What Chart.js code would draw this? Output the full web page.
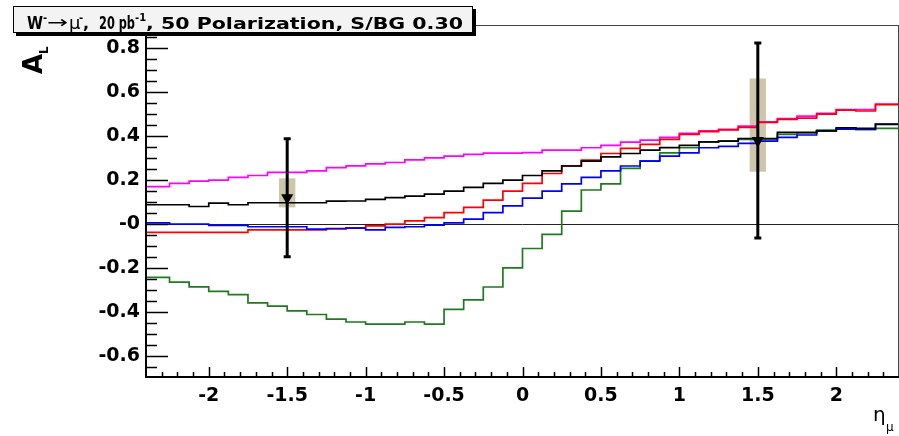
<!DOCTYPE html>
<html>
<head>
<meta charset="utf-8">
<script src="https://cdn.jsdelivr.net/npm/chart.js@4.4.1/dist/chart.umd.min.js"></script>
<style>
  html, body { margin: 0; padding: 0; background: #fff; }
</style>
</head>
<body>
<canvas id="asym" width="899" height="436"></canvas>
<script>
// histogram bin edges in eta (40 bins, 0.125 wide)
const binEdges = [-2.5, -2.375, -2.25, -2.125, -2.0, -1.875, -1.75, -1.625, -1.5, -1.375,
  -1.25, -1.125, -1.0, -0.875, -0.75, -0.625, -0.5, -0.375, -0.25, -0.125,
  0, 0.125, 0.25, 0.375, 0.5, 0.625, 0.75, 0.875, 1.0, 1.125,
  1.25, 1.375, 1.5, 1.625, 1.75, 1.875, 2.0, 2.125, 2.25, 2.375, 2.5];

// A_L per bin, one list per curve
const magentaAL = [0.170, 0.170, 0.185, 0.195, 0.200, 0.212, 0.221, 0.235, 0.235, 0.242,
  0.257, 0.265, 0.274, 0.280, 0.292, 0.301, 0.309, 0.317, 0.323, 0.323,
  0.325, 0.336, 0.336, 0.347, 0.358, 0.373, 0.382, 0.394, 0.412, 0.424,
  0.431, 0.445, 0.465, 0.480, 0.491, 0.503, 0.521, 0.521, 0.545, 0.545];
const blackAL = [0.088, 0.088, 0.088, 0.080, 0.095, 0.088, 0.097, 0.097, 0.097, 0.097,
  0.104, 0.105, 0.112, 0.120, 0.127, 0.136, 0.150, 0.167, 0.185, 0.200,
  0.221, 0.242, 0.264, 0.286, 0.306, 0.321, 0.336, 0.348, 0.358, 0.374,
  0.377, 0.389, 0.389, 0.417, 0.417, 0.424, 0.438, 0.435, 0.453, 0.453];
const redAL = [-0.038, -0.038, -0.038, -0.038, -0.038, -0.038, -0.026, -0.026, -0.026, -0.026,
  -0.022, -0.017, -0.008, 0.000, 0.015, 0.029, 0.052, 0.076, 0.109, 0.150,
  0.185, 0.230, 0.265, 0.291, 0.321, 0.344, 0.362, 0.385, 0.408, 0.420,
  0.428, 0.440, 0.462, 0.476, 0.482, 0.500, 0.518, 0.514, 0.543, 0.543];
const blueAL = [0.006, 0.006, 0.000, 0.000, -0.006, -0.006, -0.012, -0.012, -0.012, -0.023,
  -0.020, -0.018, -0.026, -0.015, -0.012, -0.005, 0.006, 0.023, 0.052, 0.083,
  0.118, 0.150, 0.183, 0.212, 0.242, 0.264, 0.286, 0.309, 0.324, 0.347,
  0.353, 0.367, 0.377, 0.394, 0.405, 0.424, 0.432, 0.430, 0.455, 0.455];
const greenAL = [-0.242, -0.242, -0.264, -0.285, -0.306, -0.321, -0.358, -0.373, -0.394, -0.411,
  -0.432, -0.445, -0.455, -0.455, -0.445, -0.455, -0.388, -0.344, -0.286, -0.199,
  -0.111, -0.047, 0.059, 0.155, 0.183, 0.253, 0.288, 0.324, 0.347, 0.374,
  0.377, 0.385, 0.385, 0.408, 0.415, 0.427, 0.435, 0.430, 0.435, 0.435];

// projected measurement points
const pointEta = [-1.5, 1.5];
const pointAL = [0.12, 0.38];
const statErr = [0.268, 0.443];
const sysLow = [0.076, 0.238];
const sysHigh = [0.208, 0.662];

// axis ticks
const xTicks = [-2, -1.5, -1, -0.5, 0, 0.5, 1, 1.5, 2];
const yTicks = [-0.6, -0.4, -0.2, 0, 0.2, 0.4, 0.6, 0.8];

const FONT = "'DejaVu Sans', 'Liberation Sans', sans-serif";

// turn a bin list into step points at the bin edges
const toSteps = vals => binEdges.map((x, i) => ({ x: x, y: vals[Math.min(i, vals.length - 1)] }));

const hist = (label, vals, color, order) => ({
  label: label,
  data: toSteps(vals),
  borderColor: color,
  borderWidth: 1.7,
  stepped: 'before',
  pointRadius: 0,
  fill: false,
  order: order
});

function fitText(ctx, txt, x, y, w) {
  const m = ctx.measureText(txt).width;
  ctx.save();
  ctx.translate(x, y);
  ctx.scale(w / m, 1);
  ctx.fillText(txt, 0, 0);
  ctx.restore();
}

const rootStyle = {
  id: 'rootStyle',
  beforeDatasetsDraw(chart) {
    const { ctx, chartArea: a, scales: { x, y } } = chart;
    ctx.save();
    // systematic boxes
    ctx.fillStyle = '#cdc6aa';
    pointEta.forEach((eta, i) => {
      const xl = x.getPixelForValue(eta - 0.052), xr = x.getPixelForValue(eta + 0.052);
      const yt = y.getPixelForValue(sysHigh[i]), yb = y.getPixelForValue(sysLow[i]);
      ctx.fillRect(xl, yt, xr - xl, yb - yt);
    });
    // zero line
    ctx.strokeStyle = '#222';
    ctx.lineWidth = 1;
    const y0 = Math.round(y.getPixelForValue(0)) + 0.5;
    ctx.beginPath();
    ctx.moveTo(a.left, y0);
    ctx.lineTo(a.right, y0);
    ctx.stroke();
    ctx.restore();
  },
  afterDatasetsDraw(chart) {
    const { ctx, scales: { x, y } } = chart;
    ctx.save();
    ctx.strokeStyle = '#000';
    ctx.lineWidth = 3;
    pointEta.forEach((eta, i) => {
      const px = x.getPixelForValue(eta);
      const top = y.getPixelForValue(pointAL[i] + statErr[i]);
      const bot = y.getPixelForValue(pointAL[i] - statErr[i]);
      ctx.beginPath();
      ctx.moveTo(px, top);
      ctx.lineTo(px, bot);
      ctx.moveTo(px - 3.5, top);
      ctx.lineTo(px + 3.5, top);
      ctx.moveTo(px - 3.5, bot);
      ctx.lineTo(px + 3.5, bot);
      ctx.stroke();
    });
    ctx.restore();
  },
  afterDraw(chart) {
    const { ctx, chartArea: a, scales: { x, y } } = chart;
    ctx.save();
    // frame
    ctx.strokeStyle = '#444';
    ctx.lineWidth = 1;
    ctx.strokeRect(a.left + 0.5, a.top + 0.5, a.right - a.left - 1, a.bottom - a.top - 1);
    ctx.strokeStyle = '#000';
    ctx.lineWidth = 2;
    ctx.beginPath();
    ctx.moveTo(a.left, a.top);
    ctx.lineTo(a.left, a.bottom);
    ctx.lineTo(a.right, a.bottom);
    ctx.stroke();

    // ticks, pointing into the frame
    ctx.lineWidth = 1.5;
    ctx.beginPath();
    for (let k = -14; k <= 18; k++) {
      const v = k * 0.05;
      if (v < y.min || v > y.max) continue;
      const py = Math.round(y.getPixelForValue(v)) + 0.5;
      const len = (k % 4 === 0) ? 22 : 11;
      ctx.moveTo(a.left, py);
      ctx.lineTo(a.left + len, py);
    }
    for (let k = -24; k <= 24; k++) {
      const v = k * 0.1;
      if (v <= x.min || v >= x.max) continue;
      const px = Math.round(x.getPixelForValue(v)) + 0.5;
      const len = (k % 5 === 0) ? 10 : 5;
      ctx.moveTo(px, a.bottom);
      ctx.lineTo(px, a.bottom - len);
    }
    ctx.stroke();

    // title box
    ctx.fillStyle = '#000';
    ctx.fillRect(16, 9, 460, 27);
    ctx.fillStyle = '#f3f3f3';
    ctx.fillRect(13, 6, 460, 27);
    ctx.strokeStyle = '#000';
    ctx.lineWidth = 1;
    ctx.strokeRect(13.5, 6.5, 459, 26);

    ctx.fillStyle = '#000';
    ctx.textBaseline = 'alphabetic';
    ctx.font = 'bold 17px ' + FONT;
    fitText(ctx, 'W', 27, 29, 16);
    ctx.font = 'bold 10px ' + FONT;
    ctx.fillText('-', 43, 21);
    ctx.font = '17px ' + FONT;
    fitText(ctx, '\u2192', 47, 28, 21);
    ctx.font = '18px ' + FONT;
    ctx.fillText('\u03bc', 69, 29);
    ctx.font = 'bold 10px ' + FONT;
    ctx.fillText('-', 79, 21);
    ctx.font = 'bold 16px ' + FONT;
    ctx.fillText(',', 83, 29);
    ctx.font = 'bold 17px ' + FONT;
    fitText(ctx, '20 pb', 99, 29, 36);
    ctx.font = 'bold 10px ' + FONT;
    ctx.fillText('-1', 135, 21);
    ctx.font = 'bold 16px ' + FONT;
    fitText(ctx, ', 50 Polarization, S/BG 0.30', 146, 29, 317);

    // y axis title A_L
    ctx.save();
    ctx.translate(42, 74);
    ctx.rotate(-Math.PI / 2);
    ctx.font = 'bold 26px ' + FONT;
    ctx.fillText('A', 0, 0);
    const wA = ctx.measureText('A').width;
    ctx.font = 'bold 12px ' + FONT;
    ctx.fillText('L', wA, 6);
    ctx.restore();

    // x axis title eta_mu
    ctx.font = '20px ' + FONT;
    ctx.fillText('\u03b7', 873, 421);
    ctx.font = '12px ' + FONT;
    ctx.fillText('\u03bc', 886, 431);
    ctx.restore();
  }
};

new Chart(document.getElementById('asym'), {
  type: 'line',
  data: {
    datasets: [
      {
        type: 'scatter',
        label: 'projection',
        data: pointEta.map((e, i) => ({ x: e, y: pointAL[i] })),
        pointStyle: 'triangle',
        rotation: 180,
        radius: 7,
        backgroundColor: '#000',
        borderColor: '#000',
        borderWidth: 0,
        order: 0
      },
      hist('black', blackAL, '#000000', 1),
      hist('blue', blueAL, '#0000ff', 2),
      hist('green', greenAL, '#1e7b1e', 3),
      hist('red', redAL, '#ff0000', 4),
      hist('magenta', magentaAL, '#ff00ff', 5)
    ]
  },
  options: {
    responsive: false,
    animation: false,
    devicePixelRatio: 1,
    layout: { autoPadding: false, padding: { top: 25, right: 0, left: 0, bottom: 0 } },
    plugins: { legend: { display: false }, tooltip: { enabled: false } },
    scales: {
      x: {
        type: 'linear',
        min: -2.4,
        max: 2.4,
        afterBuildTicks: s => { s.ticks = xTicks.map(v => ({ value: v })); },
        afterFit: s => { s.height = 59; s.paddingLeft = 0; s.paddingRight = 0; },
        grid: { display: false, drawTicks: false },
        border: { display: false },
        ticks: {
          color: '#000',
          padding: 8,
          maxRotation: 0,
          autoSkip: false,
          font: { family: FONT, weight: 'bold', size: 19 },
          callback: v => String(v)
        }
      },
      y: {
        type: 'linear',
        min: -0.695,
        max: 0.905,
        afterBuildTicks: s => { s.ticks = yTicks.map(v => ({ value: v })); },
        afterFit: s => { s.width = 146; s.paddingTop = 0; s.paddingBottom = 0; },
        grid: { display: false, drawTicks: false },
        border: { display: false },
        ticks: {
          color: '#000',
          padding: 6,
          autoSkip: false,
          font: { family: FONT, weight: 'bold', size: 19 },
          callback: v => (v === 0 ? '-0' : String(v))
        }
      }
    }
  },
  plugins: [rootStyle]
});
</script>
</body>
</html>
